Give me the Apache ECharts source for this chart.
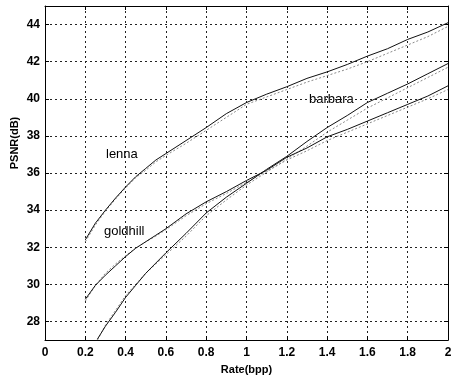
<!DOCTYPE html>
<html>
<head>
<meta charset="utf-8">
<script src="https://cdn.jsdelivr.net/npm/echarts@6/dist/echarts.min.js"></script>
<style>
  html, body { margin: 0; padding: 0; background: #fff; }
  #main { width: 455px; height: 380px; }
</style>
</head>
<body>
<div id="main"></div>
<script>
// rate axis samples (bpp)
var rateA = [0.2, 0.25, 0.3, 0.35, 0.4, 0.45, 0.5, 0.55, 0.6, 0.7, 0.8, 0.9, 1.0, 1.1, 1.2, 1.3, 1.4, 1.5, 1.6, 1.7, 1.8, 1.9, 2.0];
var rateB = [0.26, 0.3, 0.35, 0.4, 0.45, 0.5, 0.55, 0.6, 0.7, 0.8, 0.9, 1.0, 1.1, 1.2, 1.3, 1.4, 1.5, 1.6, 1.7, 1.8, 1.9, 2.0];

// PSNR (dB), solid curves
var lenna    = [32.4, 33.3, 34.0, 34.65, 35.25, 35.8, 36.25, 36.7, 37.05, 37.75, 38.45, 39.2, 39.8, 40.25, 40.65, 41.1, 41.45, 41.85, 42.3, 42.7, 43.2, 43.6, 44.1];
var goldhill = [29.2, 29.95, 30.5, 31.0, 31.5, 31.95, 32.3, 32.65, 33.0, 33.8, 34.45, 35.0, 35.6, 36.15, 36.85, 37.35, 37.95, 38.35, 38.8, 39.25, 39.7, 40.15, 40.7];
var barbara  = [27.05, 27.75, 28.5, 29.3, 29.95, 30.6, 31.15, 31.7, 32.75, 33.85, 34.7, 35.45, 36.2, 36.9, 37.7, 38.45, 39.1, 39.8, 40.3, 40.8, 41.35, 41.9];

// PSNR (dB), dotted companion curves
var lenna2    = [32.3, 33.2, 33.95, 34.6, 35.2, 35.75, 36.15, 36.6, 36.95, 37.6, 38.3, 39.0, 39.7, 40.1, 40.5, 40.9, 41.25, 41.6, 42.0, 42.45, 42.9, 43.35, 43.9];
var goldhill2 = [29.1, 29.95, 30.6, 31.1, 31.55, 31.95, 32.3, 32.6, 32.95, 33.7, 34.35, 34.9, 35.5, 36.1, 36.7, 37.2, 37.75, 38.2, 38.65, 39.1, 39.55, 40.0, 40.5];
var barbara2  = [27.0, 27.8, 28.6, 29.4, 30.0, 30.6, 31.1, 31.6, 32.6, 33.7, 34.55, 35.35, 36.05, 36.75, 37.45, 38.2, 38.85, 39.5, 40.05, 40.6, 41.15, 41.7];

var xTicks = [0, 0.2, 0.4, 0.6, 0.8, 1, 1.2, 1.4, 1.6, 1.8, 2];
var yTicks = [28, 30, 32, 34, 36, 38, 40, 42, 44];

function pairs(xs, ys) {
  return xs.map(function (x, i) { return [x, ys[i]]; });
}

var myChart = echarts.init(document.getElementById('main'));

var tickFont = { color: '#000', fontSize: 12, fontWeight: 'bold', fontFamily: 'Liberation Sans, Arial' };
var gridLine = { show: true, lineStyle: { color: '#222', type: [2, 3], width: 1 } };

function solid(name, data) {
  return {
    name: name, type: 'line', data: data, symbol: 'none', smooth: false,
    lineStyle: { color: '#111', width: 1 }, z: 3
  };
}
function dotted(name, data) {
  return {
    name: name, type: 'line', data: data, symbol: 'none', smooth: false,
    lineStyle: { color: '#8a8a8a', width: 1, type: [2, 2] }, z: 2
  };
}

var option = {
  backgroundColor: '#fff',
  animation: false,
  grid: { left: 45, right: 7, top: 6, bottom: 38 },
  xAxis: [
    {
      type: 'value', min: 0, max: 2, interval: 0.2,
      axisLine: { show: true, lineStyle: { color: '#000', width: 1 } },
      axisTick: { show: true, inside: true, length: 4, lineStyle: { color: '#000' } },
      axisLabel: Object.assign({ margin: 7, formatter: function (v) { return xTicks.indexOf(Math.round(v * 10) / 10) >= 0 ? String(Math.round(v * 10) / 10) : ''; } }, tickFont),
      splitLine: gridLine,
      name: 'Rate(bpp)', nameLocation: 'middle', nameGap: 23,
      nameTextStyle: { color: '#000', fontSize: 11, fontWeight: 'bold', fontFamily: 'Liberation Sans, Arial' }
    },
    {
      type: 'value', position: 'top', min: 0, max: 2, interval: 0.2,
      axisLine: { show: true, onZero: false, lineStyle: { color: '#000', width: 1 } },
      axisTick: { show: true, inside: true, length: 4, lineStyle: { color: '#000' } },
      axisLabel: { show: false }, splitLine: { show: false }
    }
  ],
  yAxis: [
    {
      type: 'value', min: 27, max: 45,
      axisLine: { show: true, onZero: false, lineStyle: { color: '#000', width: 1 } },
      axisTick: { show: true, inside: true, length: 4, lineStyle: { color: '#000' }, customValues: yTicks },
      axisLabel: Object.assign({ margin: 5, customValues: yTicks }, tickFont),
      splitLine: gridLine
    },
    {
      type: 'value', position: 'right', min: 27, max: 45,
      axisLine: { show: true, onZero: false, lineStyle: { color: '#000', width: 1 } },
      axisTick: { show: true, inside: true, length: 4, lineStyle: { color: '#000' }, customValues: yTicks },
      axisLabel: { show: false }, splitLine: { show: false }
    }
  ],
  graphic: [
    { type: 'text', x: 15, y: 143, rotation: Math.PI / 2, style: { text: 'PSNR(dB)', fill: '#000', font: 'bold 11px Liberation Sans, Arial', textAlign: 'center', textVerticalAlign: 'middle' } },
    { type: 'text', left: 106, top: 148, style: { text: 'lenna', fill: '#000', font: '13px Liberation Sans, Arial' } },
    { type: 'text', left: 104, top: 225, style: { text: 'goldhill', fill: '#000', font: '13px Liberation Sans, Arial' } },
    { type: 'text', left: 309, top: 93, style: { text: 'barbara', fill: '#000', font: '13px Liberation Sans, Arial' } }
  ],
  series: [
    dotted('lenna2', pairs(rateA, lenna2)),
    dotted('goldhill2', pairs(rateA, goldhill2)),
    dotted('barbara2', pairs(rateB, barbara2)),
    solid('lenna', pairs(rateA, lenna)),
    solid('goldhill', pairs(rateA, goldhill)),
    solid('barbara', pairs(rateB, barbara))
  ]
};
myChart.setOption(option);
window.addEventListener('resize', function () {
  myChart.resize();
});
</script>
</body>
</html>
